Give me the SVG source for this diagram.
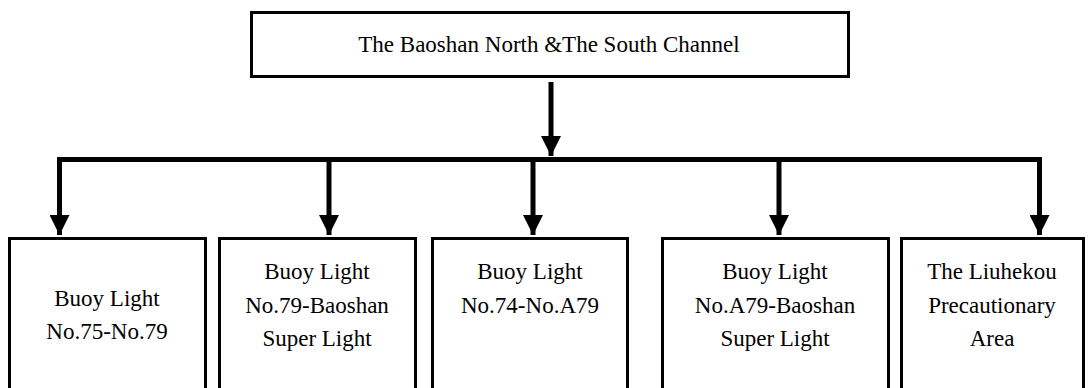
<svg xmlns="http://www.w3.org/2000/svg" width="1092" height="388" viewBox="0 0 1092 388">
<style>
.box{fill:#fff;stroke:#000;stroke-width:3}
.t{font-family:"Liberation Serif","Times New Roman",serif;font-size:23px;fill:#000;text-anchor:middle}
.c{fill:none;stroke:#000;stroke-width:5}
</style>
<defs>
<marker id="ah" markerWidth="4" markerHeight="4" refX="4" refY="2" orient="auto" markerUnits="strokeWidth">
<path d="M0,0 L4,2 L0,4 z" fill="#000"/>
</marker>
</defs>
<rect width="1092" height="388" fill="#fff"/>
<g id="connectors">
<line class="c" x1="551" y1="82" x2="551" y2="156" marker-end="url(#ah)"/>
<polyline class="c" points="59.5,235 59.5,159.5 1039.5,159.5 1039.5,235" marker-end="url(#ah)"/>
<line class="c" x1="59.5" y1="159.5" x2="59.5" y2="235" marker-end="url(#ah)"/>
<line class="c" x1="329" y1="162" x2="329" y2="235" marker-end="url(#ah)"/>
<line class="c" x1="533" y1="162" x2="533" y2="235" marker-end="url(#ah)"/>
<line class="c" x1="779" y1="162" x2="779" y2="235" marker-end="url(#ah)"/>
</g>
<g id="top">
<rect class="box" x="251.5" y="12.5" width="597" height="64"/>
<text class="t" x="549" y="52">The Baoshan North &amp;The South Channel</text>
</g>
<g id="n1">
<rect class="box" x="9.5" y="238.5" width="196" height="160"/>
<text class="t" x="107" y="306">Buoy Light</text>
<text class="t" x="107" y="339">No.75-No.79</text>
</g>
<g id="n2">
<rect class="box" x="219.5" y="238.5" width="196" height="160"/>
<text class="t" x="317" y="279">Buoy Light</text>
<text class="t" x="317" y="313">No.79-Baoshan</text>
<text class="t" x="317" y="346">Super Light</text>
</g>
<g id="n3">
<rect class="box" x="432.5" y="238.5" width="195" height="160"/>
<text class="t" x="530" y="279">Buoy Light</text>
<text class="t" x="530" y="313">No.74-No.A79</text>
</g>
<g id="n4">
<rect class="box" x="662.5" y="238.5" width="226" height="160"/>
<text class="t" x="775" y="279">Buoy Light</text>
<text class="t" x="775" y="313">No.A79-Baoshan</text>
<text class="t" x="775" y="346">Super Light</text>
</g>
<g id="n5">
<rect class="box" x="901.5" y="238.5" width="182" height="160"/>
<text class="t" x="992" y="279">The Liuhekou</text>
<text class="t" x="992" y="313">Precautionary</text>
<text class="t" x="992" y="346">Area</text>
</g>
</svg>
